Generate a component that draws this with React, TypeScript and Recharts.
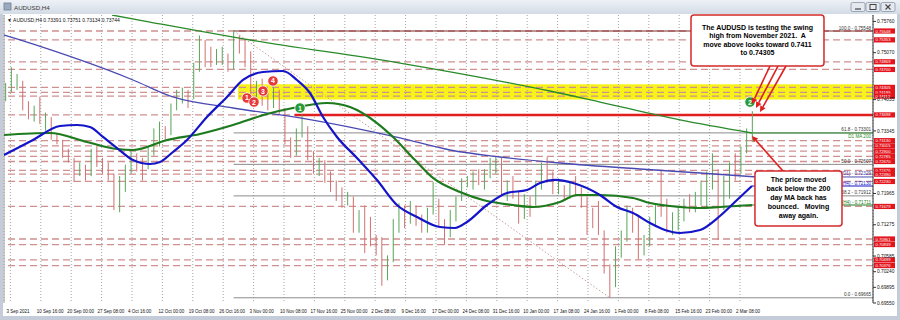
import React from 'react';
import {
  ComposedChart, Bar, Line, XAxis, YAxis, CartesianGrid,
  ReferenceLine, ReferenceArea, ReferenceDot,
} from 'recharts';

// ---------- data (daily bars, day index -1 = 2 Sep 2021 ... 130 = 4 Mar 2022) ----------
const FIRST_DAY = -1;
const firstOpen = 0.7405;
const highs = [
  0.7440, 0.7475, 0.7460, 0.7445, 0.7400, 0.7390, 0.7410, 0.7375, 0.7365, 0.7330, 0.7315,
  0.7295, 0.7275, 0.7265, 0.7260, 0.7295, 0.7300, 0.7275, 0.7265, 0.7240, 0.7235,
  0.7260, 0.7290, 0.7285, 0.7275, 0.7300, 0.7340, 0.7355, 0.7345, 0.7395, 0.7425,
  0.7430, 0.7425, 0.7485, 0.7545, 0.7535, 0.7520, 0.7515, 0.7520, 0.7505, 0.7555,
  0.7545, 0.7535, 0.7510, 0.7445, 0.7450, 0.7420, 0.7432, 0.7425, 0.7385, 0.7320,
  0.7340, 0.7370, 0.7345, 0.7290, 0.7275, 0.7270, 0.7245, 0.7225, 0.7210, 0.7200,
  0.7190, 0.7160, 0.7170, 0.7145, 0.7105, 0.7100, 0.7060, 0.7140, 0.7175, 0.7170,
  0.7180, 0.7170, 0.7150, 0.7165, 0.7222, 0.7185, 0.7140, 0.7160, 0.7190, 0.7230,
  0.7235, 0.7245, 0.7250, 0.7250, 0.7275, 0.7278, 0.7275, 0.7225, 0.7235, 0.7200,
  0.7195, 0.7190, 0.7225, 0.7265, 0.7277, 0.7245, 0.7230, 0.7215, 0.7220, 0.7235,
  0.7210, 0.7190, 0.7165, 0.7180, 0.7115, 0.7040, 0.7080, 0.7115, 0.7170, 0.7165,
  0.7145, 0.7105, 0.7145, 0.7175, 0.7249, 0.7185, 0.7155, 0.7165, 0.7185, 0.7195,
  0.7200, 0.7225, 0.7245, 0.7285, 0.7250, 0.7235, 0.7265, 0.7285, 0.7300, 0.7340, 0.7378,
];
const lows = [
  0.7400, 0.7420, 0.7425, 0.7380, 0.7360, 0.7355, 0.7350, 0.7335, 0.7315, 0.7305, 0.7275,
  0.7265, 0.7222, 0.7235, 0.7225, 0.7235, 0.7255, 0.7240, 0.7225, 0.7160, 0.7155,
  0.7200, 0.7240, 0.7245, 0.7225, 0.7250, 0.7280, 0.7300, 0.7315, 0.7325, 0.7380,
  0.7395, 0.7385, 0.7405, 0.7465, 0.7475, 0.7475, 0.7480, 0.7480, 0.7465, 0.7470,
  0.7505, 0.7475, 0.7395, 0.7400, 0.7390, 0.7380, 0.7385, 0.7370, 0.7305, 0.7275,
  0.7280, 0.7320, 0.7270, 0.7240, 0.7235, 0.7220, 0.7200, 0.7180, 0.7165, 0.7170,
  0.7110, 0.7110, 0.7065, 0.7080, 0.7060, 0.6993, 0.7005, 0.7045, 0.7110, 0.7120,
  0.7130, 0.7125, 0.7110, 0.7110, 0.7150, 0.7125, 0.7083, 0.7100, 0.7135, 0.7180,
  0.7210, 0.7205, 0.7215, 0.7205, 0.7230, 0.7240, 0.7190, 0.7180, 0.7185, 0.7130,
  0.7140, 0.7145, 0.7170, 0.7205, 0.7220, 0.7195, 0.7195, 0.7180, 0.7185, 0.7190,
  0.7165, 0.7105, 0.7120, 0.7105, 0.7020, 0.6967, 0.6990, 0.7055, 0.7090, 0.7110,
  0.7051, 0.7060, 0.7080, 0.7125, 0.7145, 0.7110, 0.7105, 0.7115, 0.7135, 0.7155,
  0.7155, 0.7170, 0.7165, 0.7205, 0.7094, 0.7160, 0.7185, 0.7225, 0.7240, 0.7285, 0.7310,
];
const closes = [
  0.7430, 0.7440, 0.7440, 0.7395, 0.7370, 0.7380, 0.7355, 0.7355, 0.7325, 0.7310, 0.7285,
  0.7270, 0.7245, 0.7255, 0.7240, 0.7285, 0.7260, 0.7250, 0.7235, 0.7180, 0.7225,
  0.7250, 0.7275, 0.7270, 0.7265, 0.7290, 0.7305, 0.7340, 0.7330, 0.7390, 0.7410,
  0.7420, 0.7410, 0.7475, 0.7510, 0.7490, 0.7485, 0.7500, 0.7500, 0.7480, 0.7545,
  0.7520, 0.7500, 0.7410, 0.7435, 0.7400, 0.7395, 0.7410, 0.7375, 0.7310, 0.7285,
  0.7335, 0.7335, 0.7280, 0.7250, 0.7265, 0.7225, 0.7215, 0.7200, 0.7185, 0.7185,
  0.7125, 0.7135, 0.7130, 0.7095, 0.7080, 0.7025, 0.7050, 0.7135, 0.7165, 0.7130,
  0.7165, 0.7130, 0.7125, 0.7160, 0.7175, 0.7130, 0.7110, 0.7145, 0.7185, 0.7220,
  0.7225, 0.7230, 0.7225, 0.7240, 0.7255, 0.7265, 0.7195, 0.7200, 0.7195, 0.7155,
  0.7185, 0.7180, 0.7215, 0.7255, 0.7235, 0.7210, 0.7210, 0.7190, 0.7210, 0.7205,
  0.7180, 0.7150, 0.7145, 0.7110, 0.7030, 0.7000, 0.7070, 0.7100, 0.7160, 0.7140,
  0.7075, 0.7085, 0.7135, 0.7165, 0.7155, 0.7125, 0.7130, 0.7150, 0.7180, 0.7175,
  0.7185, 0.7190, 0.7220, 0.7245, 0.7175, 0.7225, 0.7260, 0.7255, 0.7290, 0.7325, 0.7374,
];

// moving averages: [day position, price]
const ma100H4 = [
  [-0.79, 0.72814], [4.30, 0.73145], [9.04, 0.73453], [12.02, 0.73475], [14.30, 0.73431],
  [16.58, 0.73211], [19.04, 0.72968], [21.84, 0.72703], [24.82, 0.72615], [26.58, 0.72659],
  [28.86, 0.72880], [31.32, 0.73145], [34.82, 0.73652], [38.33, 0.74093], [41.14, 0.74468],
  [44.65, 0.74644], [48.16, 0.74666], [50.61, 0.74468], [52.89, 0.74181], [55.18, 0.73652],
  [57.63, 0.73211], [61.14, 0.72748], [64.65, 0.72263], [68.16, 0.71711], [71.67, 0.71447],
  [75.70, 0.71226], [78.33, 0.71204], [80.44, 0.71337], [83.95, 0.71711], [87.46, 0.71976],
  [90.96, 0.72042], [93.25, 0.72196], [95.88, 0.72263], [99.04, 0.72196], [103.77, 0.71932],
  [106.75, 0.71667], [109.56, 0.71535], [112.54, 0.71314], [115.18, 0.71160], [117.81, 0.71094],
  [121.32, 0.71160], [124.82, 0.71469], [127.81, 0.71821], [130.44, 0.72130],
];
const ma200H4 = [
  [-0.79, 0.73255], [7.28, 0.73299], [13.77, 0.73100], [19.04, 0.72946], [21.84, 0.72924],
  [27.81, 0.73145], [33.60, 0.73277], [39.39, 0.73475], [45.35, 0.73718], [49.91, 0.73850],
  [55.88, 0.73960], [59.91, 0.73872], [64.65, 0.73519], [67.46, 0.73211], [71.32, 0.72703],
  [74.47, 0.72307], [79.21, 0.71998], [83.25, 0.71821], [88.51, 0.71711], [92.02, 0.71667],
  [96.75, 0.71777], [99.74, 0.71932], [103.77, 0.71932], [109.56, 0.71866], [112.54, 0.71755],
  [117.81, 0.71667], [121.32, 0.71645], [124.82, 0.71667], [130.44, 0.71711],
];
const ma100D1 = [
  [-0.79, 0.75460], [2.02, 0.75350], [21.84, 0.74468], [28.86, 0.74093], [39.39, 0.73850],
  [51.14, 0.73630], [68.68, 0.73189], [77.46, 0.72924], [86.23, 0.72770], [96.75, 0.72637],
  [110.79, 0.72505], [121.32, 0.72417], [131.32, 0.72329],
];
const ma200D1 = [
  [18.16, 0.75901], [24.82, 0.75746], [42.37, 0.75350], [68.68, 0.74842], [86.23, 0.74445],
  [95.00, 0.74225], [103.77, 0.73982], [117.81, 0.73586], [130.44, 0.73299],
];

// horizontal price levels (red tags on the price scale)
const levels = [
  0.75548, 0.75353, 0.74869, 0.74700, 0.74305, 0.74195, 0.74112, 0.73698,
  0.73130, 0.73015, 0.72900, 0.72785, 0.72670, 0.72476, 0.72390, 0.72230,
  0.71679, 0.70961, 0.70839, 0.70499, 0.70376,
];
const swingHigh = 0.73698;
const yellowZone = [0.74040, 0.74372];

// Fibonacci retracement Oct high -> Jan low
const fibNames = ['100.0', '61.8', '50.0', '38.2', '0.0'];
const fibPrices = [0.75548, 0.73301, 0.72607, 0.71912, 0.69665];
const fibHighDay = 39.5;
const fibLowDay = 105.5;

// price scale ticks that are not hidden behind the red tags, and time scale ticks
const yTicks = [
  0.6955, 0.69895, 0.7024, 0.70585, 0.71275, 0.71965, 0.73345, 0.74035, 0.7507, 0.7576,
];
const xTickDays = [
  0.333, 5.667, 11, 16.333, 21.667, 27, 32.333, 37.667, 43, 48.333, 53.667, 59, 64.333,
  69.667, 75, 80.333, 85.667, 91, 96.333, 101.667, 107, 112.333, 117.667, 123, 128.333,
];
const xTickLabels = [
  '3 Sep 2021', '10 Sep 16:00', '20 Sep 00:00', '27 Sep 08:00', '4 Oct 16:00', '12 Oct 00:00',
  '19 Oct 08:00', '26 Oct 16:00', '3 Nov 00:00', '10 Nov 08:00', '17 Nov 16:00', '25 Nov 00:00',
  '2 Dec 08:00', '9 Dec 16:00', '17 Dec 00:00', '24 Dec 08:00', '31 Dec 16:00', '10 Jan 00:00',
  '17 Jan 08:00', '24 Jan 16:00', '1 Feb 00:00', '8 Feb 08:00', '15 Feb 16:00', '23 Feb 00:00',
  '2 Mar 08:00',
];

// annotations (data coordinates)
const redMarkers = [
  { n: '1', t: 41.84, p: 0.74071 }, { n: '2', t: 43.07, p: 0.73982 },
  { n: '3', t: 44.65, p: 0.74225 }, { n: '4', t: 46.4, p: 0.74446 },
];
const greenMarkers = [{ n: '1', t: 51.14, p: 0.73850 }, { n: '2', t: 130.09, p: 0.73982 }];
const note1 = ['The AUDUSD is testing the swing', 'high from November 2021.  A', 'move above looks toward 0.7411', 'to 0.74305'];
const note2 = ['The price moved', 'back below the 200', 'day MA back has', 'bounced.   Moving', 'away again.'];

const X_MIN = -0.79;
const X_MAX = 151.67;
const Y_MIN = 0.6955;
const Y_MAX = 0.75901;

const candles = highs.map((h, i) => {
  const open = i === 0 ? firstOpen : closes[i - 1];
  return { t: FIRST_DAY + i + 0.5, open, high: h, low: lows[i], close: closes[i], range: [lows[i], h] };
});
const toPts = (arr: number[][]) => arr.map(([t, v]) => ({ t, v }));

const FONT = '"Liberation Sans", Arial, sans-serif';

const Candle = (props: any) => {
  const { x, y, width, height, payload } = props;
  if (!payload || !isFinite(y) || !isFinite(height)) return null;
  const { open, close, high, low } = payload;
  const ppu = height / (high - low);
  const yOf = (v: number) => y + (high - v) * ppu;
  const up = close >= open;
  const color = up ? '#5aa55a' : '#d07070';
  const cx = x + width / 2;
  const top = yOf(Math.max(open, close));
  const bot = yOf(Math.min(open, close));
  return (
    <g>
      <line x1={cx} x2={cx} y1={y} y2={y + height} stroke={color} strokeWidth={1} />
      <rect x={x} y={top} width={width} height={Math.max(1, bot - top)} fill={color} />
    </g>
  );
};

const XTick = (props: any) => {
  const { x, y, payload } = props;
  const idx = xTickDays.indexOf(payload.value);
  return (
    <text x={x - 4} y={y + 9.5} fontSize={4.5} fill="#111" fontFamily={FONT}>{xTickLabels[idx]}</text>
  );
};
const YTick = (props: any) => {
  const { x, y, payload } = props;
  return (
    <text x={x} y={y + 1.7} fontSize={4.8} fill="#111" fontFamily={FONT}>{Number(payload.value).toFixed(5)}</text>
  );
};

const priceTag = (v: number) => (p: any) => {
  const vb = p.viewBox;
  if (!vb) return null;
  const x = vb.x + vb.width + 1;
  return (
    <g>
      <rect x={x} y={vb.y - 2.6} width={21} height={5.2} fill="#e3141c" />
      <text x={x + 1.4} y={vb.y + 1.5} fontSize={4.2} fill="#fff" fontFamily={FONT}>{v.toFixed(5)}</text>
    </g>
  );
};
const rightText = (txt: string, color: string, dy = -1.5) => (p: any) => {
  const vb = p.viewBox;
  if (!vb) return null;
  return (
    <text x={vb.x + vb.width - 2} y={vb.y + dy} textAnchor="end" fontSize={4.6} fill={color} fontFamily={FONT}>{txt}</text>
  );
};

const boxShape = (lines: string[], first: number, lh: number) => (p: any) => {
  const { x, y, width, height } = p;
  return (
    <g>
      <rect x={x} y={y} width={width} height={height} rx={3} fill="#fff" stroke="#d42a2a" strokeWidth={1.5} />
      {lines.map((s, i) => (
        <text key={i} x={x + width / 2} y={y + first + i * lh} textAnchor="middle" fontSize={7}
          fontWeight="bold" fill="#000" fontFamily={FONT} style={{ whiteSpace: 'pre' }}>{s}</text>
      ))}
    </g>
  );
};

const arrowShape = (withHead: boolean) => (p: any) => {
  const { x1, y1, x2, y2 } = p;
  if (![x1, y1, x2, y2].every((v) => isFinite(v))) return null;
  const ang = Math.atan2(y2 - y1, x2 - x1);
  const L = withHead ? 6 : 0;
  const W = 3;
  const bx = x2 - L * Math.cos(ang);
  const by = y2 - L * Math.sin(ang);
  const pts = `${x2},${y2} ${bx + W * Math.sin(ang)},${by - W * Math.cos(ang)} ${bx - W * Math.sin(ang)},${by + W * Math.cos(ang)}`;
  return (
    <g>
      <line x1={x1} y1={y1} x2={bx} y2={by} stroke="#e02020" strokeWidth={1.6} />
      {withHead && <polygon points={pts} fill="#e02020" />}
    </g>
  );
};

const markerShape = (n: string, fill: string) => (p: any) => (
  <g>
    <circle cx={p.cx} cy={p.cy} r={5.2} fill={fill} stroke="#fff" strokeWidth={0.8} />
    <text x={p.cx} y={p.cy + 2.5} textAnchor="middle" fontSize={7} fontWeight="bold" fill="#fff" fontFamily={FONT}>{n}</text>
  </g>
);

export default function App() {
  return (
    <div style={{ position: 'fixed', left: 0, top: 0, width: 900, height: 320, overflow: 'hidden', background: '#c3ccd8' }}>
      <div style={{ position: 'absolute', left: 0, top: 0, width: 900, height: 14, background: 'linear-gradient(#eef2f7, #d3dbe5)' }} />
      <div style={{ position: 'absolute', left: 3, top: 14, width: 894, height: 302, background: '#ffffff' }} />
      <svg width={900} height={320} style={{ position: 'absolute', left: 0, top: 0 }}>
        <rect x={4} y={3} width={7} height={7} fill="#9aabbf" stroke="#6f8096" strokeWidth={0.8} />
        <text x={14} y={9.5} fontSize={6.2} fill="#3a3a3a" fontFamily={FONT}>AUDUSD,H4</text>
        {[851, 866, 881].map((bx, i) => (
          <g key={bx}>
            <rect x={bx} y={2.5} width={14} height={9} rx={1.5} fill="#e4e9ef" stroke="#8a97a8" strokeWidth={0.8} />
            {i === 0 && <line x1={bx + 4} x2={bx + 10} y1={9} y2={9} stroke="#444" strokeWidth={1.2} />}
            {i === 1 && <rect x={bx + 4} y={4.5} width={6} height={5} fill="none" stroke="#444" strokeWidth={1} />}
            {i === 2 && <path d={`M${bx + 4.5},4.5 L${bx + 9.5},9.5 M${bx + 9.5},4.5 L${bx + 4.5},9.5`} stroke="#444" strokeWidth={1.1} />}
          </g>
        ))}
      </svg>
      <div style={{ position: 'absolute', left: 0, top: 0 }}>
        <ComposedChart width={900} height={320} data={candles} margin={{ top: 15, right: 0, bottom: 0, left: 4 }}>
          <ReferenceArea x1={40.26} x2={X_MAX} y1={yellowZone[0]} y2={yellowZone[1]} fill="#f6f200" fillOpacity={0.9} stroke="none" ifOverflow="visible" zIndex={-150} />
          <CartesianGrid horizontal={false} stroke="#a4a4a4" strokeDasharray="1 2" />
          <XAxis dataKey="t" type="number" domain={[X_MIN, X_MAX]} allowDataOverflow ticks={xTickDays} interval={0}
            tick={<XTick />} tickLine={false} axisLine={false} tickSize={0} tickMargin={0} height={17} />
          <YAxis orientation="right" type="number" domain={[Y_MIN, Y_MAX]} allowDataOverflow ticks={yTicks} interval={0}
            width={27} tickSize={3} tickMargin={1} tick={<YTick />} axisLine={{ stroke: '#333' }} tickLine={{ stroke: '#333' }} />
          <ReferenceLine x={X_MIN} stroke="#9a9a9a" ifOverflow="visible" />

          {levels.map((v) => (
            <ReferenceLine key={'lv' + v} y={v} stroke="#d09090" strokeWidth={1.3} strokeDasharray="7 4"
              ifOverflow="visible" label={priceTag(v)} zIndex={-80} />
          ))}

          {fibPrices.map((v, i) => (
            <ReferenceLine key={'fib' + i} segment={[{ x: fibHighDay, y: v }, { x: X_MAX, y: v }]}
              stroke={i === 0 ? '#7a2a2a' : '#8c8c8c'} strokeWidth={1} ifOverflow="visible"
              label={rightText(`${fibNames[i]} - ${v.toFixed(5)}`, '#333')} zIndex={-70} />
          ))}
          <ReferenceLine segment={[{ x: fibHighDay, y: fibPrices[0] }, { x: fibLowDay, y: fibPrices[4] }]}
            stroke="#c89a9a" strokeWidth={1} strokeDasharray="1.5 2" ifOverflow="visible" zIndex={-70} />

          <ReferenceLine segment={[{ x: 50.2, y: swingHigh }, { x: X_MAX, y: swingHigh }]} stroke="#e31e1e" strokeWidth={2.5} ifOverflow="visible" zIndex={-60} />

          <ReferenceLine segment={[{ x: 130.44, y: 0.73299 }, { x: X_MAX, y: 0.73299 }]} stroke="#2a8a2a" strokeWidth={1.2}
            ifOverflow="visible" label={rightText('D1 MA 200', '#2a8a2a', 5)} zIndex={-60} />
          <ReferenceLine segment={[{ x: 131.32, y: 0.72329 }, { x: X_MAX, y: 0.72329 }]} stroke="#4a4ab4" strokeWidth={1}
            ifOverflow="visible" label={rightText('100(D1) - 0.72329', '#3a3aa8')} zIndex={-60} />
          <ReferenceLine segment={[{ x: 130.44, y: 0.72130 }, { x: X_MAX, y: 0.72130 }]} stroke="#1414c8" strokeWidth={1}
            ifOverflow="visible" label={rightText('100(H4) - 0.72130', '#1414c8')} zIndex={-60} />
          <ReferenceLine segment={[{ x: 130.44, y: 0.71711 }, { x: X_MAX, y: 0.71711 }]} stroke="#1d7a1d" strokeWidth={1}
            ifOverflow="visible" label={rightText('200(H4) - 0.71711', '#1d7a1d')} zIndex={-60} />

          <Bar dataKey="range" barSize={3} shape={<Candle />} isAnimationActive={false} />

          <Line data={toPts(ma200D1)} dataKey="v" type="monotone" dot={false} stroke="#2a8a2a" strokeWidth={1.3} isAnimationActive={false} />
          <Line data={toPts(ma100D1)} dataKey="v" type="monotone" dot={false} stroke="#4a4ab4" strokeWidth={1.3} isAnimationActive={false} />
          <Line data={toPts(ma200H4)} dataKey="v" type="monotone" dot={false} stroke="#1d7a1d" strokeWidth={2.2} isAnimationActive={false} />
          <Line data={toPts(ma100H4)} dataKey="v" type="monotone" dot={false} stroke="#1414c8" strokeWidth={2.2} isAnimationActive={false} />

          {redMarkers.map((m) => (
            <ReferenceDot key={'r' + m.n} x={m.t} y={m.p} r={5} ifOverflow="visible" shape={markerShape(m.n, '#e63a3a')} zIndex={1200} />
          ))}
          {greenMarkers.map((m) => (
            <ReferenceDot key={'g' + m.n} x={m.t} y={m.p} r={5} ifOverflow="visible" shape={markerShape(m.n, '#2a9a3a')} zIndex={1200} />
          ))}

          <ReferenceLine segment={[{ x: 133.6, y: 0.74776 }, { x: 130.44, y: 0.73938 }]} ifOverflow="visible" shape={arrowShape(true)} zIndex={1300} />
          <ReferenceLine segment={[{ x: 135.0, y: 0.74776 }, { x: 131.14, y: 0.73850 }]} ifOverflow="visible" shape={arrowShape(true)} zIndex={1300} />
          <ReferenceLine segment={[{ x: 136.4, y: 0.74776 }, { x: 131.84, y: 0.73762 }]} ifOverflow="visible" shape={arrowShape(true)} zIndex={1300} />
          <ReferenceLine segment={[{ x: 135.88, y: 0.72461 }, { x: 130.44, y: 0.73233 }]} ifOverflow="visible" shape={arrowShape(true)} zIndex={1300} />

          <ReferenceArea x1={119.74} x2={143.07} y1={0.74776} y2={Y_MAX} ifOverflow="visible" shape={boxShape(note1, 14.5, 8.5)} zIndex={1400} />
          <ReferenceArea x1={130.96} x2={146.23} y1={0.71248} y2={0.72461} ifOverflow="visible" shape={boxShape(note2, 11.5, 9)} zIndex={1400} />
        </ComposedChart>
      </div>
      <svg width={900} height={40} style={{ position: 'absolute', left: 0, top: 0, pointerEvents: 'none' }}>
        <text x={7} y={21.5} fontSize={5} fill="#111" fontFamily={FONT}>▼ AUDUSD,H4  0.73391 0.73751 0.73134 0.73744</text>
      </svg>
    </div>
  );
}
